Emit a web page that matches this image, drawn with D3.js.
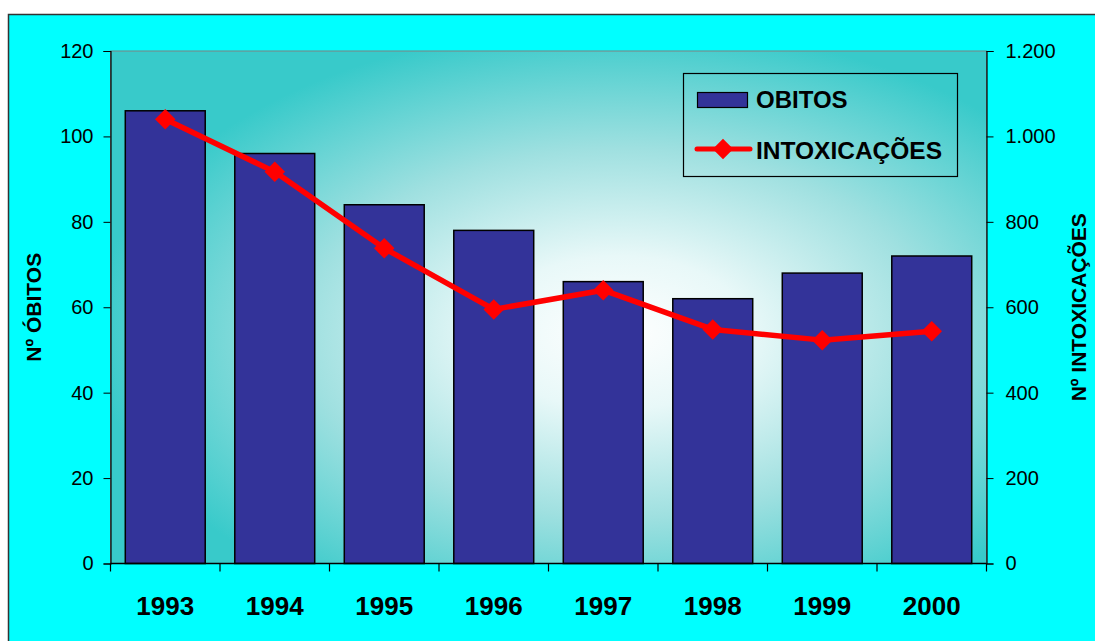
<!DOCTYPE html>
<html>
<head>
<meta charset="utf-8">
<script src="https://cdn.jsdelivr.net/npm/d3@7"></script>
<style>
  html, body { margin: 0; padding: 0; background: #ffffff; }
  svg { display: block; }
  text { font-family: "Liberation Sans", Arial, sans-serif; fill: #000; }
</style>
</head>
<body>
<svg id="chart" width="1095" height="641"></svg>
<script>
// Yearly deaths (bars, left axis) and poisonings (line, right axis)
const years = ["1993", "1994", "1995", "1996", "1997", "1998", "1999", "2000"];
const obitos = [106, 96, 84, 78, 66, 62, 68, 72];
const intoxicacoes = [1040, 917, 738, 595, 640, 548, 523, 544];
const leftTicks = [0, 20, 40, 60, 80, 100, 120];
const rightTicks = [0, 200, 400, 600, 800, 1000, 1200];

const svg = d3.select("#chart");
const plot = { left: 110.5, right: 986.5, top: 51, bottom: 563.5 };

// Portuguese number format: 1.200
const pt = d3.formatLocale({ decimal: ",", thousands: ".", grouping: [3], currency: ["", ""] });
const fmtThousands = pt.format(",d");

const x = d3.scaleBand().domain(years).range([plot.left, plot.right])
  .paddingInner(0.27).paddingOuter(0.135);
const yL = d3.scaleLinear().domain([0, 120]).range([plot.bottom, plot.top]);
const yR = d3.scaleLinear().domain([0, 1200]).range([plot.bottom, plot.top]);

// Gradient fill for the plot area
const defs = svg.append("defs");
const grad = defs.append("radialGradient").attr("id", "plotFill")
  .attr("cx", 0.58).attr("cy", 0.55).attr("r", 0.6).attr("fx", 0.58).attr("fy", 0.55);
grad.append("stop").attr("offset", 0).attr("stop-color", "#ffffff");
grad.append("stop").attr("offset", 0.25).attr("stop-color", "#e8f8f8");
grad.append("stop").attr("offset", 0.6).attr("stop-color", "#9fe0e0");
grad.append("stop").attr("offset", 1).attr("stop-color", "#38caca");

// Chart frame
svg.append("rect").attr("x", 8.5).attr("y", 14.5).attr("width", 1200).attr("height", 700)
  .attr("fill", "#00ffff").attr("stroke", "#333").attr("stroke-width", 1.5);

// Plot area
svg.append("rect")
  .attr("x", plot.left).attr("y", plot.top)
  .attr("width", plot.right - plot.left).attr("height", plot.bottom - plot.top)
  .attr("fill", "url(#plotFill)").attr("stroke", "#808080").attr("stroke-width", 1);

// Bars
svg.append("g").selectAll("rect").data(years).join("rect")
  .attr("x", d => x(d))
  .attr("y", (d, i) => yL(obitos[i]))
  .attr("width", x.bandwidth())
  .attr("height", (d, i) => yL(0) - yL(obitos[i]))
  .attr("fill", "#333399")
  .attr("stroke", "#000").attr("stroke-width", 1.5);

// Left axis
const axL = svg.append("g").attr("transform", `translate(${plot.left},0)`)
  .call(d3.axisLeft(yL).tickValues(leftTicks).tickSize(7).tickPadding(10).tickFormat(d3.format("d")));
axL.select(".domain").attr("stroke", "#000").attr("stroke-width", 1.2);
axL.selectAll("text").style("font-size", "20px").style("font-family", "Liberation Sans, Arial, sans-serif");

// Right axis
const axR = svg.append("g").attr("transform", `translate(${plot.right},0)`)
  .call(d3.axisRight(yR).tickValues(rightTicks).tickSize(7).tickPadding(12).tickFormat(fmtThousands));
axR.select(".domain").attr("stroke", "#000").attr("stroke-width", 1.2);
axR.selectAll("text").style("font-size", "20px").style("font-family", "Liberation Sans, Arial, sans-serif");

// Bottom axis line with ticks at category boundaries
svg.append("line").attr("x1", plot.left).attr("x2", plot.right)
  .attr("y1", plot.bottom).attr("y2", plot.bottom).attr("stroke", "#000").attr("stroke-width", 1.5);
const step = x.step();
const bounds = years.map(d => x(d) - step * x.paddingInner() / 2).concat([plot.right]);
svg.append("g").selectAll("line").data(bounds).join("line")
  .attr("x1", d => d).attr("x2", d => d)
  .attr("y1", plot.bottom).attr("y2", plot.bottom + 8)
  .attr("stroke", "#000").attr("stroke-width", 1.2);

// Year labels
svg.append("g").selectAll("text").data(years).join("text")
  .attr("x", d => x(d) + x.bandwidth() / 2)
  .attr("y", 615)
  .attr("text-anchor", "middle")
  .style("font-size", "26px").style("font-weight", "bold")
  .text(d => d);

// Line series with diamond markers
const line = d3.line().x((d, i) => x(years[i]) + x.bandwidth() / 2).y(d => yR(d));
svg.append("path").datum(intoxicacoes)
  .attr("d", line).attr("fill", "none")
  .attr("stroke", "#ff0000").attr("stroke-width", 5.5).attr("stroke-linejoin", "round");

const diamond = d3.symbol().type(d3.symbolSquare).size(210);
svg.append("g").selectAll("path").data(intoxicacoes).join("path")
  .attr("d", diamond)
  .attr("transform", (d, i) => `translate(${x(years[i]) + x.bandwidth() / 2},${yR(d)}) rotate(45)`)
  .attr("fill", "#ff0000");

// Axis titles
svg.append("text")
  .attr("transform", `translate(41,${(plot.top + plot.bottom) / 2}) rotate(-90)`)
  .attr("text-anchor", "middle")
  .style("font-size", "21px").style("font-weight", "bold")
  .text("Nº ÓBITOS");
svg.append("text")
  .attr("transform", `translate(1086,${(plot.top + plot.bottom) / 2}) rotate(-90)`)
  .attr("text-anchor", "middle")
  .style("font-size", "21px").style("font-weight", "bold")
  .text("Nº INTOXICAÇÕES");

// Legend
const lg = svg.append("g");
lg.append("rect").attr("x", 683.5).attr("y", 73.5).attr("width", 274).attr("height", 103)
  .attr("fill", "none").attr("stroke", "#000").attr("stroke-width", 1.2);
lg.append("rect").attr("x", 697.5).attr("y", 92.5).attr("width", 50).attr("height", 15)
  .attr("fill", "#333399").attr("stroke", "#000").attr("stroke-width", 1.2);
lg.append("text").attr("x", 756).attr("y", 108)
  .style("font-size", "24px").style("font-weight", "bold").text("OBITOS");
lg.append("line").attr("x1", 697).attr("x2", 750).attr("y1", 149).attr("y2", 149)
  .attr("stroke", "#ff0000").attr("stroke-width", 5).attr("stroke-linecap", "round");
lg.append("path").attr("d", diamond).attr("transform", "translate(723,149) rotate(45)").attr("fill", "#ff0000");
lg.append("text").attr("x", 756).attr("y", 159)
  .style("font-size", "24.5px").style("font-weight", "bold").text("INTOXICAÇÕES");
</script>
</body>
</html>
